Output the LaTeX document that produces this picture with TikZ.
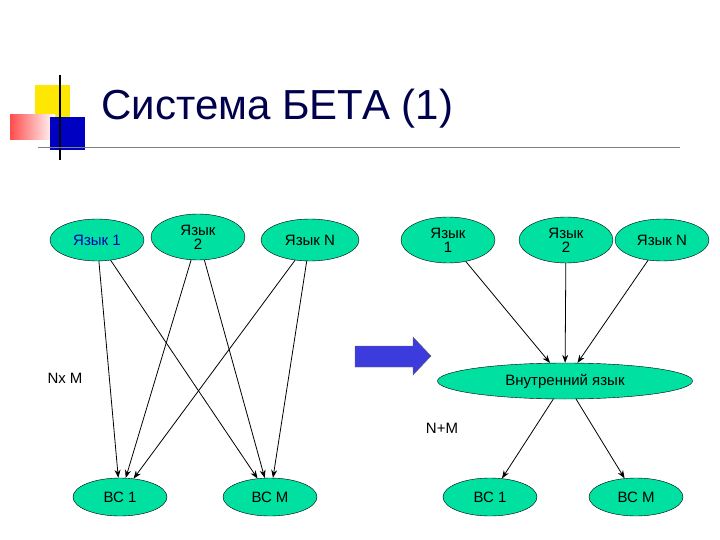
\documentclass[tikz,border=0pt]{standalone}
\usepackage{fontspec}
\setmainfont{Liberation Sans}
\usetikzlibrary{shapes.geometric,arrows.meta}
\definecolor{lang}{RGB}{0,224,160}
\definecolor{arr}{RGB}{60,60,220}
\begin{document}
\begin{tikzpicture}[x=1pt,y=-1pt,
  el/.style={ellipse,draw,fill=lang,minimum width=94pt,minimum height=42pt,inner sep=0pt,align=center,font=\fontsize{15}{14}\selectfont},
  con/.style={-{Stealth[length=8pt,width=6pt]},line width=0.8pt}]
\useasboundingbox (0,0) rectangle (720,540);
% title decoration
\fill[yellow!90!orange] (35,85) rectangle (70,120);
\shade[left color=red!70!white,right color=white] (10,115) rectangle (55,140);
\fill[blue!70!black!80!blue] (50,117) rectangle (85,150);
\draw[line width=1.5pt] (60,75) -- (60,160);
\draw[gray,line width=1pt] (38,148) -- (680,148);
\node[anchor=base west,font=\fontsize{42}{42}\selectfont,text=blue!30!black] at (98,120) {Система БЕТА (1)};
% left
\node[el,text=blue!70!black] (l1) at (97,240) {Язык 1};
\node[el,minimum height=46pt] (l2) at (198,237) {Язык\\2};
\node[el,minimum width=98pt] (ln) at (310,240) {Язык N};
\node[el,minimum height=38pt] (b1) at (120,497) {ВС 1};
\node[el,minimum height=38pt] (bm) at (270,497) {ВС M};
\node[font=\fontsize{15}{15}\selectfont] (nxm) at (65,378) {Nx M};
\foreach \s in {l1,l2,ln}{\draw[con] (\s) -- (b1); \draw[con] (\s) -- (bm);}
% big arrow
\draw[black!60,fill=arr] (355,346) -- (413,346) -- (413,337) -- (431,356) -- (413,375) -- (413,367) -- (355,367) -- cycle;
% right
\node[el,minimum height=46pt] (r1) at (448,240) {Язык\\1};
\node[el,minimum height=46pt] (r2) at (566,240) {Язык\\2};
\node[el] (rn) at (662,240) {Язык N};
\node[el,minimum width=255pt,minimum height=36pt] (in) at (565,381) {Внутренний язык};
\node[el,minimum height=38pt] (c1) at (490,497) {ВС 1};
\node[el,minimum height=38pt] (cm) at (636,497) {ВС M};
\node[font=\fontsize{15}{15}\selectfont] (npm) at (442,428) {N+M};
\foreach \s in {r1,r2,rn}{\draw[con] (\s) -- (in);}
\draw[con] (in) -- (c1);
\draw[con] (in) -- (cm);
\end{tikzpicture}
\end{document}
